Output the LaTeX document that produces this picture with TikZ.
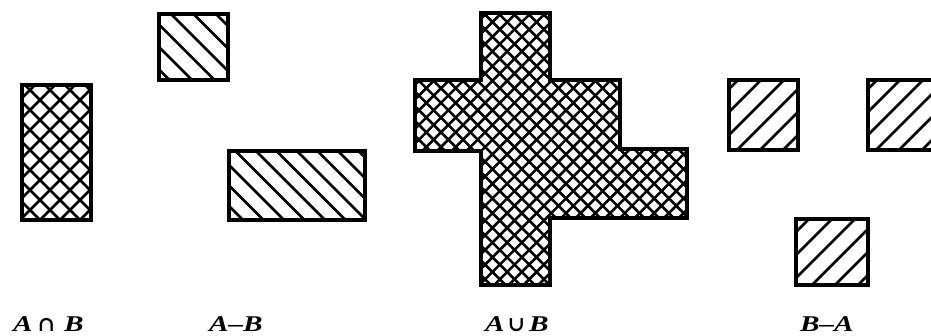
\documentclass[tikz,border=0pt]{standalone}
\usepackage{fontspec}
\newfontfamily\labfont{Liberation Serif}
\newfontfamily\symfont{DejaVu Serif}
\newcommand\setlab[1]{\scalebox{1.3}[1]{\fontsize{22.5}{27}\selectfont\labfont\bfseries\itshape #1}}
\newcommand\setsym[1]{{\fontsize{21}{27}\selectfont\symfont\bfseries #1}}
\begin{document}
\begin{tikzpicture}[x=1pt,y=-1pt,
  outline/.style={line width=4.6pt, line join=miter},
  hatchline/.style={line width=2.6pt},
  label/.style={anchor=base west, inner sep=0pt, outer sep=0pt}]
\useasboundingbox (0,0) rectangle (931,336);

% ---------- A intersect B (cross-hatched rectangle)
\begin{scope}
  \clip (22,85) rectangle (91,220);
  \foreach \c in {-400,-380,...,1100} {
    \draw[hatchline] (\c,0) -- ++(400,400);
    \draw[hatchline] (\c,0) -- ++(-400,400);
  }
\end{scope}
\draw[outline] (22,85) rectangle (91,220);

% ---------- A minus B (hatched "\")
\begin{scope}
  \clip (159,14) rectangle (228,80);
  \foreach \c in {-0.5,22,...,400} {
    \draw[hatchline] (\c,0) -- ++(400,400);
  }
\end{scope}
\draw[outline] (159,14) rectangle (228,80);

\begin{scope}
  \clip (229,151) rectangle (365,220);
  \foreach \c in {-100,-79.5,...,400} {
    \draw[hatchline] (\c,0) -- ++(400,400);
  }
\end{scope}
\draw[outline] (229,151) rectangle (365,220);

% ---------- A union B (cross-hatched cross)
\begin{scope}
  \clip (481,13) -- (550,13) -- (550,80) -- (620,80) -- (620,149)
        -- (687,149) -- (687,218) -- (550,218) -- (550,285) -- (481,285)
        -- (481,151) -- (415,151) -- (415,80) -- (481,80) -- cycle;
  \foreach \c in {0,14.7,...,1300} {
    \draw[hatchline] (\c,0) -- ++(400,400);
    \draw[hatchline] (\c,0) -- ++(-400,400);
  }
\end{scope}
\draw[outline] (481,13) -- (550,13) -- (550,80) -- (620,80) -- (620,149)
        -- (687,149) -- (687,218) -- (550,218) -- (550,285) -- (481,285)
        -- (481,151) -- (415,151) -- (415,80) -- (481,80) -- cycle;

% ---------- B minus A (hatched "/")
\begin{scope}
  \clip (729,80) rectangle (798,150);
  \foreach \c in {795,818,...,1000} {
    \draw[hatchline] (\c,0) -- ++(-400,400);
  }
\end{scope}
\draw[outline] (729,80) rectangle (798,150);

\begin{scope}
  \clip (868,80) rectangle (937,150);
  \foreach \c in {934,957,...,1150} {
    \draw[hatchline] (\c,0) -- ++(-400,400);
  }
\end{scope}
\draw[outline] (868,80) rectangle (937,150);

\begin{scope}
  \clip (796,219) rectangle (868,285);
  \foreach \c in {1005,1028,...,1250} {
    \draw[hatchline] (\c,0) -- ++(-400,400);
  }
\end{scope}
\draw[outline] (796,219) rectangle (868,285);

% ---------- labels
\node[label] (lab1) at (13,332) {\setlab{A}\hspace{5pt}\setsym{∩}\hspace{9pt}\setlab{B}};
\node[label] (lab2) at (209,332) {\setlab{A–B}};
\node[label] (lab3) at (485,332) {\setlab{A}\hspace{3pt}\setsym{∪}\hspace{4pt}\setlab{B}};
\node[label] (lab4) at (800,332) {\setlab{B–A}};
\end{tikzpicture}
\end{document}
